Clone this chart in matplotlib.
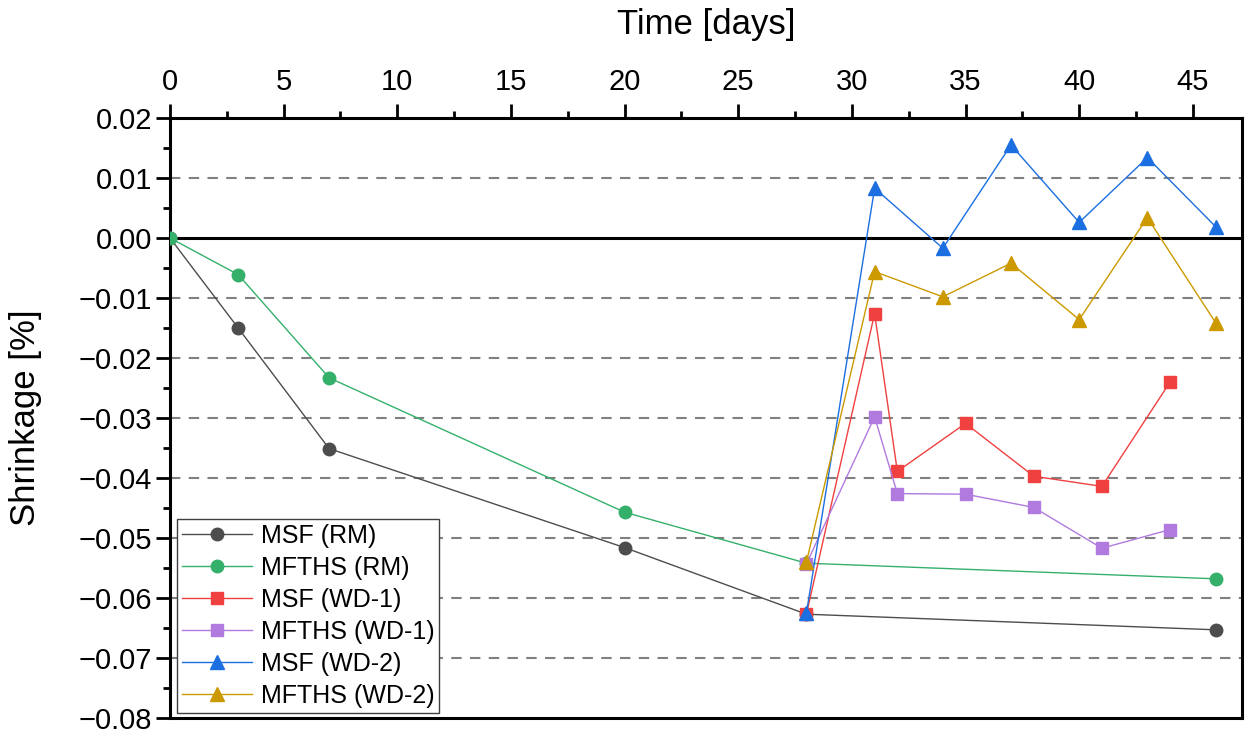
import matplotlib
matplotlib.use("Agg")
import matplotlib.pyplot as plt
from matplotlib.ticker import MultipleLocator, FuncFormatter

plt.rcParams['font.family'] = ['Liberation Sans', 'DejaVu Sans']

days_rm = [0, 3, 7, 20, 28, 46]
msf_rm = [0.0, -0.0150, -0.0351, -0.0516, -0.0627, -0.0653]
mfths_rm = [0.0, -0.0061, -0.0233, -0.0457, -0.0542, -0.0568]

days_wd1 = [28, 31, 32, 35, 38, 41, 44]
msf_wd1 = [-0.0627, -0.0126, -0.0389, -0.0309, -0.0397, -0.0414, -0.0240]
mfths_wd1 = [-0.0543, -0.0298, -0.0426, -0.0427, -0.0449, -0.0517, -0.0486]

days_wd2 = [28, 31, 34, 37, 40, 43, 46]
msf_wd2 = [-0.0625, 0.0083, -0.0017, 0.0155, 0.0026, 0.0134, 0.0019]
mfths_wd2 = [-0.0540, -0.0056, -0.0098, -0.0042, -0.0136, 0.0034, -0.0141]

labels = ["MSF (RM)", "MFTHS (RM)", "MSF (WD-1)", "MFTHS (WD-1)", "MSF (WD-2)", "MFTHS (WD-2)"]
colors = ["#4d4d4d", "#35b06b", "#f04040", "#b07ade", "#1c6fe0", "#cc9900"]

fig = plt.figure(figsize=(12.47, 7.29), dpi=100)
ax = fig.add_axes([170/1247, 1 - 718/729, 1071.7/1247, 600/729])

series = [
    (days_rm, msf_rm, 'o', 9),
    (days_rm, mfths_rm, 'o', 9),
    (days_wd1, msf_wd1, 's', 9),
    (days_wd1, mfths_wd1, 's', 9),
    (days_wd2, msf_wd2, '^', 10),
    (days_wd2, mfths_wd2, '^', 10),
]
for (x, y, m, ms), lab, c in zip(series, labels, colors):
    ax.plot(x, y, marker=m, markersize=ms, color=c, lw=1.0, label=lab, zorder=3)

ax.set_xlim(0, 47.15)
ax.set_ylim(-0.08, 0.02)

for yv in [0.01, -0.01, -0.02, -0.03, -0.04, -0.05, -0.06, -0.07]:
    ax.axhline(yv, color='#808080', lw=1.5, ls=(0, (5, 4)), zorder=1)
ax.axhline(0.0, color='black', lw=2.2, zorder=2)

ax.xaxis.tick_top()
ax.xaxis.set_label_position('top')
ax.xaxis.set_major_locator(MultipleLocator(5))
ax.xaxis.set_minor_locator(MultipleLocator(2.5))
ax.yaxis.set_major_locator(MultipleLocator(0.01))
ax.yaxis.set_minor_locator(MultipleLocator(0.005))
ax.yaxis.set_major_formatter(FuncFormatter(lambda v, p: f"{v:.2f}".replace('-', '\u2212') if abs(v) > 1e-9 else "0.00"))

ax.tick_params(axis='both', which='major', direction='out', length=10, width=2, labelsize=21, pad=3)
ax.tick_params(axis='x', which='major', pad=6)
ax.tick_params(axis='both', which='minor', direction='out', length=5, width=2)
ax.tick_params(axis='x', which='both', top=True, bottom=False)
ax.tick_params(axis='y', which='both', left=True, right=False)

for s in ax.spines.values():
    s.set_linewidth(2.2)

ax.set_xlabel("Time [days]", fontsize=25, labelpad=24)
ax.set_ylabel("Shrinkage [%]", fontsize=25, labelpad=26)

leg = ax.legend(loc='lower left', bbox_to_anchor=(0.0063, 0.0083), fontsize=18,
                frameon=True, fancybox=False, edgecolor='#404040', framealpha=1,
                borderpad=0.2, labelspacing=0.32, handlelength=2.8, handletextpad=0.35,
                borderaxespad=0)
leg.get_frame().set_linewidth(1.0)

fig.savefig("out.png", dpi=100)
